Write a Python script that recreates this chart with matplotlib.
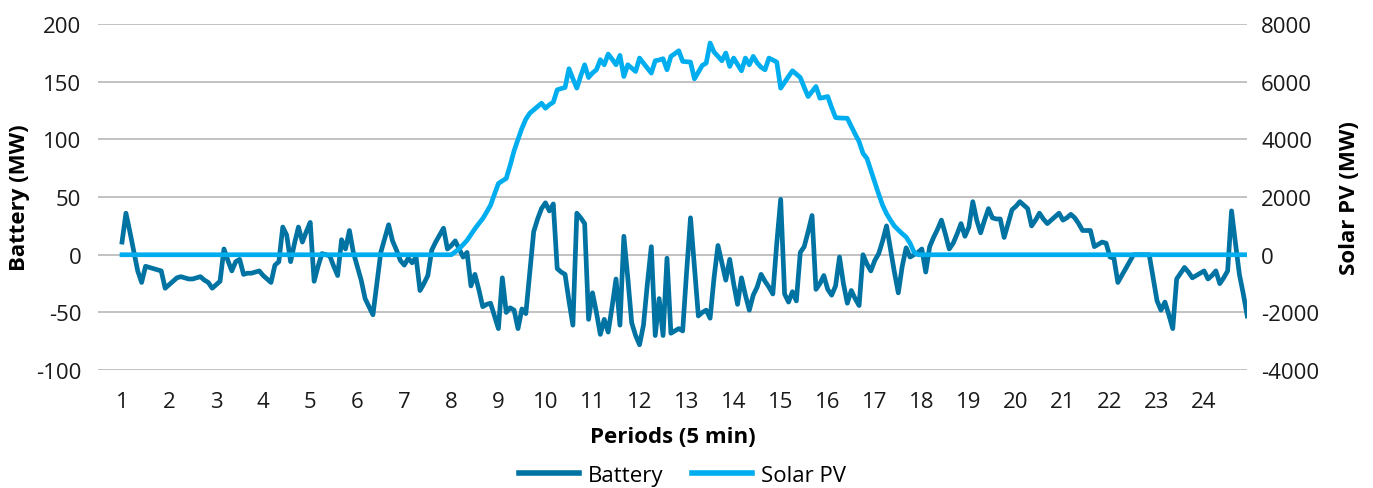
import numpy as np
import matplotlib.pyplot as plt
from matplotlib.lines import Line2D

plt.rcParams['font.family'] = ['Open Sans', 'DejaVu Sans']
plt.rcParams['axes.unicode_minus'] = False

# battery dispatch (MW), one value per 5-min period, 12 per hour
battery = [
    11, 36, 20, 3, -14, -24, -10, -11, -12, -13, -14, -29,
    -26, -23, -20, -19, -20, -21, -21, -20, -19, -22, -24, -29,
    -26, -23, 5, -5, -14, -6, -4, -17, -16, -16, -15, -14,
    -18, -21, -24, -9, -6, 24, 17, -6, 10, 24, 11, 20,
    28, -23, -10, 1, 0, -1, -10, -18, 13, 5, 21, 2,
    -10, -22, -38, -45, -52, -25, 2, 14, 26, 12, 4, -5,
    -9, -3, -7, -2, -31, -25, -18, 4, 11, 17, 23, 5,
    8, 12, 5, -2, 2, -27, -17, -30, -45, -43, -42, -53,
    -64, -20, -50, -46, -48, -64, -47, -51, -15, 20, 31, 40,
    45, 38, 44, -12, -15, -17, -40, -61, 36, 32, 27, -56,
    -33, -50, -69, -56, -67, -45, -21, -61, 16, -20, -59, -70,
    -78, -61, -25, 7, -70, -38, -70, -3, -68, -66, -64, -66,
    -15, 32, -10, -53, -50, -48, -55, -20, 8, -7, -22, -4,
    -25, -43, -20, -35, -48, -35, -28, -17, -23, -28, -34, 10,
    48, -34, -41, -32, -40, 2, 7, 20, 34, -30, -25, -18,
    -30, -35, -27, -2, -25, -42, -31, -38, -44, 0, -8, -14,
    -5, 1, 12, 25, 5, -15, -33, -10, 6, -2, 0, 2,
    5, -15, 7, 15, 22, 30, 18, 5, 10, 18, 27, 16,
    24, 46, 30, 19, 30, 40, 32, 31, 31, 15, 27, 39,
    42, 46, 43, 40, 25, 30, 36, 31, 27, 30, 33, 36,
    30, 32, 35, 32, 27, 21, 21, 21, 7, 9, 11, 10,
    -2, -3, -24, -18, -12, -6, 0, 0, 0, 0, 0, -20,
    -40, -48, -41, -52, -64, -21, -16, -11, -15, -20, -18, -16,
    -14, -21, -18, -14, -25, -20, -14, 38, 10, -17, -34, -53,
]

# solar PV output (MW)
solar = [0] * 84 + [
    0, 100, 209, 350, 498, 700, 900, 1080, 1252, 1480, 1716, 2100,
    2470, 2560, 2644, 3100, 3600, 4000, 4383, 4700, 4905, 5020, 5140, 5252,
    5078, 5200, 5287, 5716, 5760, 5797, 6446, 6100, 5774, 6200, 6585, 6144,
    6300, 6411, 6759, 6585, 6956, 6780, 6585, 6910, 6179, 6585, 6470, 6353,
    6817, 6640, 6470, 6296, 6724, 6750, 6794, 6411, 6875, 6970, 7071, 6701,
    6690, 6678, 6098, 6330, 6562, 6643, 7339, 7026, 6880, 6724, 6991, 6527,
    6817, 6600, 6376, 6817, 6585, 6875, 6650, 6500, 6411, 6817, 6750, 6678,
    5774, 5980, 6180, 6376, 6260, 6144, 5800, 5484, 5660, 5832, 5426, 5450,
    5484, 5100, 4754, 4740, 4735, 4730, 4450, 4180, 3919, 3513, 3339, 2930,
    2527, 2100, 1716, 1426, 1200, 997, 860, 730, 614, 400, 93, 0,
] + [0] * 84

hours = list(range(1, 25))

x = 1 + np.arange(len(battery)) / 12

BATT_COLOR = '#0073A3'
SOLAR_COLOR = '#00AEEF'
GRID_COLOR = '#BDBDBD'
FS = 16

fig = plt.figure(figsize=(13.73, 4.89), dpi=100)
ax = fig.add_axes([0.0714, 0.241, 0.837, 0.708])
ax2 = ax.twinx()

ax.plot(x, battery, color=BATT_COLOR, lw=3.4, solid_joinstyle='round')
ax2.plot(x, solar, color=SOLAR_COLOR, lw=3.4, solid_joinstyle='round')

ax.set_ylim(-100, 200)
ax.set_yticks(range(-100, 201, 50))
ax2.set_ylim(-4000, 8000)
ax2.set_yticks(range(-4000, 8001, 2000))
ax.set_xlim(0.49, x[-1])
ax.set_xticks(hours)

ax.grid(axis='y', color=GRID_COLOR, lw=1.3)
ax.set_axisbelow(True)

for a in (ax, ax2):
    for s in a.spines.values():
        s.set_visible(False)
    a.tick_params(length=0, labelsize=FS, colors='#1a1a1a')
ax.tick_params(axis='y', pad=12)
ax.tick_params(axis='x', pad=15)
ax2.tick_params(axis='y', pad=10)

ax.set_ylabel('Battery (MW)', fontsize=FS, fontweight='bold', labelpad=4)
ax2.set_ylabel('Solar PV (MW)', fontsize=FS, fontweight='bold', labelpad=14)
ax.set_xlabel('Periods (5 min)', fontsize=FS, fontweight='bold', labelpad=10)

handles = [Line2D([], [], color=BATT_COLOR, lw=4),
           Line2D([], [], color=SOLAR_COLOR, lw=4)]
fig.legend(handles, ['Battery', 'Solar PV'], loc='center', ncol=2,
           frameon=False, fontsize=FS, handlelength=2.7, handletextpad=0.4,
           columnspacing=1.3, bbox_to_anchor=(0.497, 0.026))

fig.savefig('out.png', dpi=100)
